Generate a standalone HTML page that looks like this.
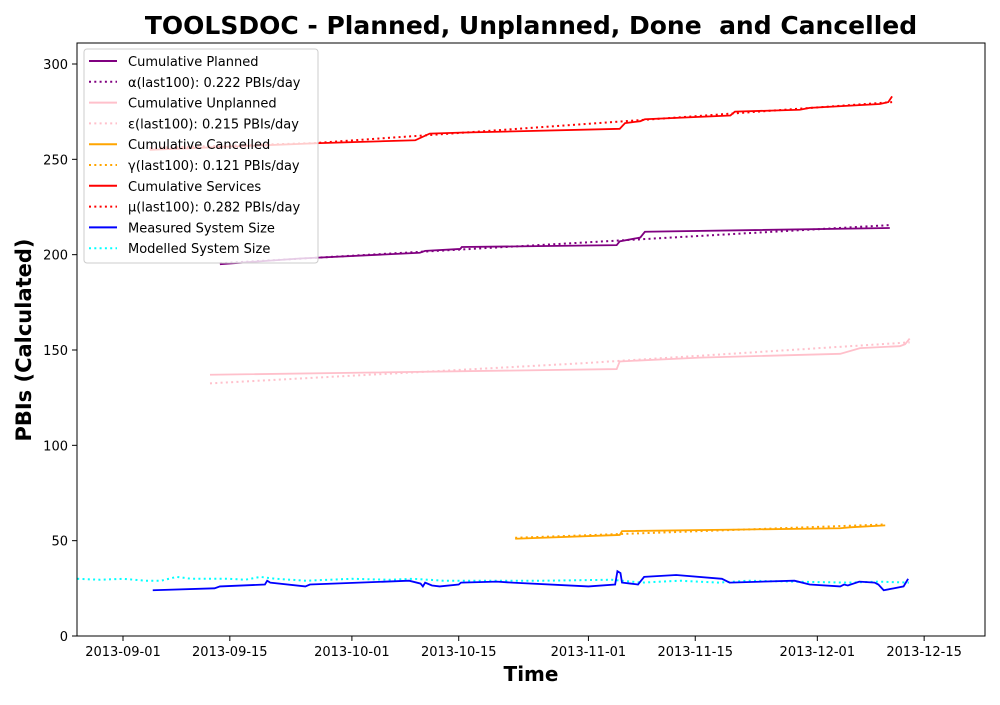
<!DOCTYPE html>
<html><head><meta charset="utf-8"><style>
body{margin:0;background:#fff}
svg text{font-family:"DejaVu Sans","Liberation Sans",sans-serif}
</style></head><body>
<svg id="chart" width="1000" height="700" xmlns="http://www.w3.org/2000/svg">
<rect width="1000" height="700" fill="#fff"/>
<text x="531" y="34" font-size="25" font-weight="bold" text-anchor="middle" xml:space="preserve" style="white-space:pre">TOOLSDOC - Planned, Unplanned, Done  and Cancelled</text>
<text transform="translate(31,340) rotate(-90)" font-size="21" font-weight="bold" text-anchor="middle">PBIs (Calculated)</text>
<text x="531" y="681" font-size="20" font-weight="bold" text-anchor="middle">Time</text>
<g id="axes"></g>
<g id="series"></g>
<rect x="77" y="43" width="908" height="593" fill="none" stroke="#000" stroke-width="1"/>
<g id="legend"></g>
</svg>
<script>
// days since 2013-09-01
const xTickLabels=["2013-09-01","2013-09-15","2013-10-01","2013-10-15","2013-11-01","2013-11-15","2013-12-01","2013-12-15"];
const xTickDays=[0,14,30,44,61,75,91,105];
const yTicks=[0,50,100,150,200,250,300];
const planned=[[12.7,195],[23.2,198],[38.9,201],[39.6,202],[44.2,203],[44.4,204],[64.7,205],[65.1,207],[67.8,209],[68.4,212],[100.5,214]];
const plannedFit=[[12.7,195.5],[50,204],[100.5,215.5]];
const unplanned=[[11.4,137],[64.7,140],[65.1,144],[75.6,146],[94,148],[96.6,151],[101.8,152],[102.5,153],[103.1,156]];
const unplannedFit=[[11.4,132.5],[60,143],[103.1,154]];
const cancelled=[[51.4,51],[65.1,53],[65.4,55],[94,56.5],[95.3,57],[99.9,58]];
const cancelledFit=[[51.4,51.5],[99.9,58.5]];
const services=[[3.5,255],[25.8,258.5],[38.3,260],[40.2,263.5],[44.2,264],[65.1,266],[65.8,269],[67.8,270],[68.4,271],[79.6,273],[80.2,275],[88.7,276],[90,277],[99.2,279],[100.3,280],[100.8,283]];
const servicesFit=[[3.5,256],[25,258.5],[50,265.5],[100.8,280]];
const measured=[[3.9,24],[12,25],[12.7,26],[18.6,27],[18.9,29],[19.3,28],[23.9,26],[24.5,27],[37.5,29],[39,27.5],[39.3,26],[39.6,28],[40.5,26.5],[41.5,26],[44,27],[44.3,28],[49,28.5],[51,28],[61,26],[64.5,27],[64.8,34],[65.2,33],[65.4,28],[66.5,27.5],[67.5,27],[67.9,29],[68.3,31],[72.5,32],[78.5,30],[79.5,28],[88,29],[90,27],[94,26],[94.5,27],[95,26.5],[96.5,28.5],[98.5,28],[99,27],[99.7,24],[101,25],[102.3,26],[102.6,28],[102.9,30]];
const modelled=[[-6,30],[-3,29.5],[0,30],[3,29],[5,29],[7,31],[9,30],[14,30],[16,29.5],[18,31],[20,30],[24,29],[30,30],[35,29.5],[38,30],[42,29],[48,29],[55,29],[64,29.5],[68,28],[73,29],[78,28],[82,29],[88,28.5],[95,28],[99,28.5],[103,28]];

const NS="http://www.w3.org/2000/svg";
const X=d=>123+d*7.63, Y=v=>636-v*1.9067;
function mk(tag,attrs,parent){const e=document.createElementNS(NS,tag);for(const k in attrs)e.setAttribute(k,attrs[k]);parent.appendChild(e);return e;}
const axes=document.getElementById('axes');
xTickDays.forEach((d,i)=>{
 const l=mk('line',{x1:X(d),x2:X(d),y1:636,y2:641,stroke:'#000'},axes);
 
 
 const t=mk('text',{x:X(d),y:656,'font-size':13,'text-anchor':'middle'},axes);t.textContent=xTickLabels[i];
 
 
});
yTicks.forEach(v=>{
 const l=mk('line',{x1:72,x2:77,y1:Y(v),y2:Y(v),stroke:'#000'},axes);
 
 
 const t=mk('text',{x:68,y:Y(v)+5,'font-size':13,'text-anchor':'end'},axes);t.textContent=v;
 
 
});
const sg=document.getElementById('series');
function line(data,color,dotted,name){
 const p=mk('polyline',{points:data.map(a=>X(a[0])+','+Y(a[1])).join(' '),fill:'none',stroke:color,'stroke-width':dotted?2:1.8,'stroke-dasharray':dotted?'2,3.3':'none'},sg);
 
 
}
line(modelled,'cyan',true,'modelled-system-size-line');
line(measured,'blue',false,'measured-system-size-line');
line(cancelledFit,'orange',true,'cancelled-fit-line');
line(cancelled,'orange',false,'cumulative-cancelled-line');
line(unplannedFit,'pink',true,'unplanned-fit-line');
line(unplanned,'pink',false,'cumulative-unplanned-line');
line(plannedFit,'purple',true,'planned-fit-line');
line(planned,'purple',false,'cumulative-planned-line');
line(servicesFit,'red',true,'services-fit-line');
line(services,'red',false,'cumulative-services-line');
const lg=document.getElementById('legend');
const box=mk('rect',{x:84,y:49,width:234,height:214,rx:3,fill:'rgba(255,255,255,0.8)',stroke:'#ccc'},lg);


const entries=[['Cumulative Planned','purple',0],['α(last100): 0.222 PBIs/day','purple',1],['Cumulative Unplanned','pink',0],['ε(last100): 0.215 PBIs/day','pink',1],['Cumulative Cancelled','orange',0],['γ(last100): 0.121 PBIs/day','orange',1],['Cumulative Services','red',0],['μ(last100): 0.282 PBIs/day','red',1],['Measured System Size','blue',0],['Modelled System Size','cyan',1]];
entries.forEach((e,i)=>{
 const y=61+i*20.8;
 const g=mk('g',{},lg);
 
 
 mk('line',{x1:89,x2:117,y1:y,y2:y,stroke:e[1],'stroke-width':2,'stroke-dasharray':e[2]?'2,3.3':'none'},g);
 const t=mk('text',{x:128,y:y+5,'font-size':13},g);t.textContent=e[0];
});
</script>
</body></html>
